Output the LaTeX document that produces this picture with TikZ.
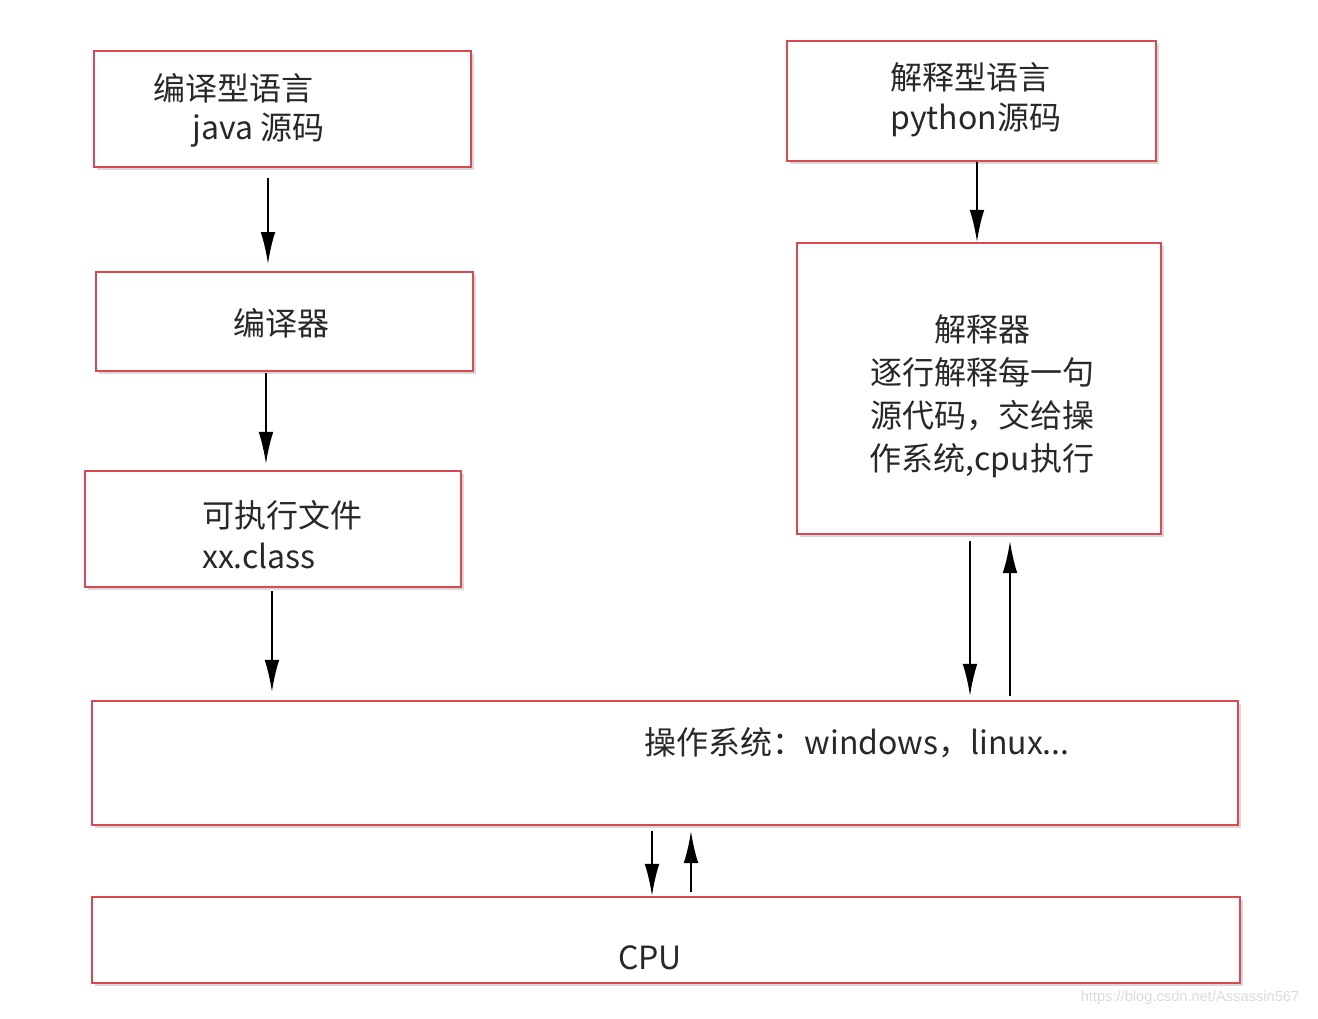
\documentclass[tikz,border=0pt]{standalone}
\usepackage{fontspec}
\setmainfont{Noto Sans CJK SC}
\newfontfamily\wmfont{Liberation Sans}
\usetikzlibrary{fit,arrows.meta,shadows}
\definecolor{boxred}{RGB}{218,72,84}
\definecolor{txtgray}{RGB}{40,40,40}
\tikzset{
  stdbox/.style={draw=boxred, line width=1.6pt, fill=white, inner sep=0pt,
    drop shadow={shadow xshift=2pt, shadow yshift=-2pt, opacity=0.25, fill=black!60}},
  arr/.style={draw=black, line width=1.5pt, arrows={-Latex[length=24pt,width=11pt]}},
  lbl/.style={font=\fontsize{24}{32.3}\selectfont, text=txtgray, inner sep=0pt},
}
\begin{document}
\begin{tikzpicture}[x=0.75pt,y=-0.75pt]
\useasboundingbox[fill=white] (0,0) rectangle (1318,1018);

% boxes
\node[stdbox, fit={(94,51) (471,167)}] (b1) {};
\node[stdbox, fit={(96,272) (473,371)}] (b2) {};
\node[stdbox, fit={(85,471) (461,587)}] (b3) {};
\node[stdbox, fit={(787,41) (1156,161)}] (b4) {};
\node[stdbox, fit={(797,243) (1161,534)}] (b5) {};
\node[stdbox, fit={(92,701) (1238,825)}] (os) {};
\node[stdbox, fit={(92,897) (1240,983)}] (cpu) {};

% texts
\node[lbl, anchor=west] (t1a) at (153,88) {编译型语言};
\node[lbl, anchor=west] (t1b) at (192,130) {java 源码};
\node[lbl] (t2) at (281,323) {编译器};
\node[lbl, anchor=west] (t3a) at (202,515) {可执行文件};
\node[lbl, anchor=west] (t3b) at (202,556) {xx.class};
\node[lbl, anchor=west] (t4a) at (890,77) {解释型语言};
\node[lbl, anchor=west] (t4b) at (890,120) {python源码};
\node[lbl, align=center] (t5) at (982,396) {解释器\\逐行解释每一句\\源代码，交给操\\作系统,cpu执行};
\node[lbl] (t6) at (857,743) {操作系统：windows，linux...};
\node[lbl] (t7) at (650,958) {CPU};
\node[font=\wmfont\fontsize{11}{13}\selectfont, text=black!14, inner sep=0pt] (wm) at (1190,998) {https://blog.csdn.net/Assassin567};

% connectors
\draw[arr, shorten <=7.5pt, shorten >=5.2pt] ([xshift=-10.9pt]b1.south) -- ([xshift=-10.9pt]b1.south |- b2.north);
\draw[arr, shorten <=0.8pt, shorten >=4.5pt] ([xshift=-13.9pt]b2.south) -- ([xshift=-13.9pt]b2.south |- b3.north);
\draw[arr, shorten <=2.2pt, shorten >=6pt] ([xshift=-0.8pt]b3.south) -- ([xshift=-0.8pt]b3.south |- os.north);
\draw[arr] ([xshift=4.1pt]b4.south) -- ([xshift=4.1pt]b4.south |- b5.north);
\draw[arr, shorten <=4.5pt, shorten >=3pt] ([xshift=-6.75pt]b5.south) -- ([xshift=-6.75pt]b5.south |- os.north);
\draw[arr, shorten <=3pt, shorten >=4.5pt] ([xshift=23.25pt]b5.south |- os.north) -- ([xshift=23.25pt]b5.south);
\draw[arr, shorten <=3.75pt] ([xshift=-9.75pt]os.south) -- ([xshift=-9.75pt]os.south |- cpu.north);
\draw[arr, shorten <=3pt, shorten >=3.75pt] ([xshift=19.5pt]os.south |- cpu.north) -- ([xshift=19.5pt]os.south);
\end{tikzpicture}
\end{document}
